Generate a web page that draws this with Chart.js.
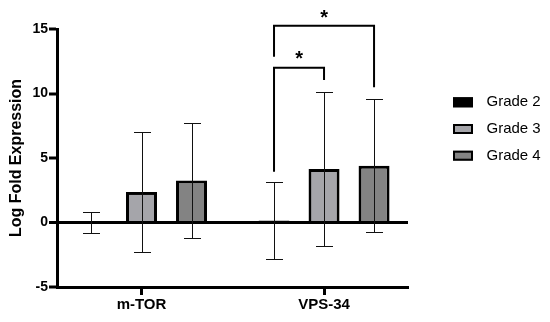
<!DOCTYPE html>
<html><head><meta charset="utf-8">
<script src="https://cdn.jsdelivr.net/npm/chart.js@4.4.1/dist/chart.umd.min.js"></script>
<style>html,body{margin:0;padding:0;background:#fff;} canvas{display:block;}</style>
</head><body>
<canvas id="c" width="550" height="322"></canvas>
<script>
const categories = ['m-TOR', 'VPS-34'];
const seriesNames = ['Grade 2', 'Grade 3', 'Grade 4'];
const grade2 = [0, 0.15];
const grade3 = [2.37, 4.15];
const grade4 = [3.25, 4.4];
const grade2Err = [0.78, 3.0];
const grade3Err = [4.63, 6.0];
const grade4Err = [4.46, 5.15];
const yTicks = [-5, 0, 5, 10, 15];
// significance brackets (all within VPS-34)
const sigCategory = [1, 1];
const sigFrom = [0, 0];
const sigTo = [1, 2];
const sigLevel = [12.0, 15.26];
const sigFromEnd = [3.94, 12.85];
const sigToEnd = [11.05, 10.48];
const sigStarY = [13.06, 16.26];
const sigLabel = ['*', '*'];

const seriesValues = [grade2, grade3, grade4];
const seriesErrors = [grade2Err, grade3Err, grade4Err];
const seriesColors = ['#000000', '#a5a5aa', '#838383'];
const FONT = "'Liberation Sans', Arial, sans-serif";
Chart.defaults.font.family = FONT;
Chart.defaults.color = '#000';

const errorBars = {
  id: 'errorBars',
  afterDatasetsDraw(chart) {
    const ctx = chart.ctx, y = chart.scales.y;
    ctx.save();
    ctx.strokeStyle = '#111';
    ctx.lineWidth = 1;
    seriesValues.forEach((vals, d) => {
      const meta = chart.getDatasetMeta(d);
      vals.forEach((v, i) => {
        const e = seriesErrors[d][i];
        const x = Math.round(meta.data[i].x) + 0.5;
        const hi = Math.round(y.getPixelForValue(v + e)) + 0.5;
        const lo = Math.round(y.getPixelForValue(v - e)) + 0.5;
        ctx.beginPath();
        ctx.moveTo(x, hi); ctx.lineTo(x, lo);
        ctx.moveTo(x - 8.5, hi); ctx.lineTo(x + 8.5, hi);
        ctx.moveTo(x - 8.5, lo); ctx.lineTo(x + 8.5, lo);
        ctx.stroke();
      });
    });
    ctx.restore();
  }
};

const brackets = {
  id: 'brackets',
  afterDraw(chart) {
    const ctx = chart.ctx, y = chart.scales.y;
    ctx.save();
    ctx.strokeStyle = '#000';
    ctx.lineWidth = 2;
    ctx.lineCap = 'butt';
    sigLevel.forEach((lvl, k) => {
      const c = sigCategory[k];
      const x1 = chart.getDatasetMeta(sigFrom[k]).data[c].x;
      const x2 = chart.getDatasetMeta(sigTo[k]).data[c].x;
      const yl = y.getPixelForValue(lvl);
      ctx.beginPath();
      ctx.moveTo(x1, y.getPixelForValue(sigFromEnd[k]));
      ctx.lineTo(x1, yl);
      ctx.lineTo(x2, yl);
      ctx.lineTo(x2, y.getPixelForValue(sigToEnd[k]));
      ctx.stroke();
      const size = 20;
      ctx.fillStyle = '#000';
      ctx.font = 'bold ' + size + 'px ' + FONT;
      ctx.textAlign = 'center';
      ctx.textBaseline = 'alphabetic';
      ctx.fillText(sigLabel[k], (x1 + x2) / 2, y.getPixelForValue(sigStarY[k]) + 0.57 * size);
    });
    ctx.restore();
  }
};

const customLegend = {
  id: 'customLegend',
  afterDraw(chart) {
    const ctx = chart.ctx;
    ctx.save();
    chart.data.datasets.forEach((ds, i) => {
      const cy = 102.3 + i * 26.7;
      ctx.fillStyle = ds.backgroundColor;
      ctx.fillRect(453, cy - 5, 20, 10);
      ctx.strokeStyle = '#000';
      ctx.lineWidth = 2;
      ctx.strokeRect(454, cy - 4, 18, 8);
      ctx.fillStyle = '#000';
      ctx.font = '15px ' + FONT;
      ctx.textAlign = 'left';
      ctx.textBaseline = 'middle';
      ctx.fillText(ds.label, 486.5, cy);
    });
    ctx.restore();
  }
};

new Chart(document.getElementById('c'), {
  type: 'bar',
  data: {
    datasets: seriesNames.map((name, d) => ({
      label: name,
      data: seriesValues[d].map((v, i) => ({ x: i + 1, y: v })),
      backgroundColor: seriesColors[d],
      borderColor: '#000',
      borderWidth: 3,
      borderSkipped: 'start',
      categoryPercentage: 0.822,
      barPercentage: 0.62
    }))
  },
  options: {
    responsive: false,
    animation: false,
    devicePixelRatio: 1,
    layout: { padding: { top: 29, right: 142, bottom: 0, left: 0 } },
    plugins: { legend: { display: false }, tooltip: { enabled: false } },
    scales: {
      x: {
        type: 'linear', min: 0.537, max: 2.46, offset: false,
        afterBuildTicks: s => { s.ticks = categories.map((c, i) => ({ value: i + 1 })); },
        afterFit: s => { s.height = 35; },
        ticks: { callback: v => categories[Math.round(v) - 1], font: { size: 15, weight: 'bold' }, color: '#000', padding: 1, autoSkip: false, maxRotation: 0 },
        grid: { display: true, offset: false, drawOnChartArea: false, drawTicks: true, tickLength: 8, tickWidth: 3, tickColor: '#000' },
        border: { display: true, color: '#000', width: 3 }
      },
      y: {
        min: -5, max: 15,
        afterBuildTicks: s => { s.ticks = yTicks.map(v => ({ value: v })); },
        afterFit: s => { s.width = 57; },
        ticks: { font: { size: 14, weight: 'bold' }, color: '#000', padding: 1 },
        grid: {
          color: c => (c.tick && c.tick.value === 0) ? '#000' : 'rgba(0,0,0,0)',
          lineWidth: c => (c.tick && c.tick.value === 0) ? 3 : 0,
          tickColor: '#000', tickWidth: 3, tickLength: 8
        },
        border: { display: true, color: '#000', width: 3 },
        title: { display: true, text: 'Log Fold Expression', font: { size: 16, weight: 'bold' }, color: '#000', padding: { top: 7, bottom: 0 } }
      }
    }
  },
  plugins: [errorBars, brackets, customLegend]
});
</script>
</body></html>
